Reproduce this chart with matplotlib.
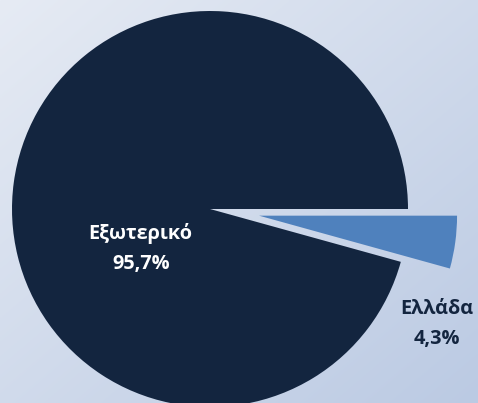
"""Pie chart: Εξωτερικό vs Ελλάδα share, exploded small slice."""

import matplotlib

matplotlib.use("Agg")
import matplotlib.pyplot as plt  # noqa: E402
import numpy as np  # noqa: E402

labels = ["Ελλάδα", "Εξωτερικό"]
shares = [4.3, 95.7]
colors = ["#4f81bd", "#13253f"]
explode = [0.25, 0.0]

W, H, DPI = 478, 403, 100
SCALE = 198.0  # pixels per unit radius
CX, CY = 210.0, 209.0  # pie centre in pixels (from top-left)

fig = plt.figure(figsize=(W / DPI, H / DPI), dpi=DPI)

# diagonal background gradient
bg = fig.add_axes([0, 0, 1, 1])
gx, gy = np.meshgrid(np.linspace(0, 1, 256), np.linspace(0, 1, 256))
t = (gx + gy) / 2
c0 = np.array([0xe6, 0xeb, 0xf4]) / 255
c1 = np.array([0xbb, 0xca, 0xe3]) / 255
img = c0[None, None, :] * (1 - t[..., None]) + c1[None, None, :] * t[..., None]
bg.imshow(img, extent=[0, 1, 0, 1], aspect="auto", origin="upper")
bg.axis("off")

ax = fig.add_axes([0, 0, 1, 1])
ax.set_facecolor("none")
ax.pie(shares, colors=colors, explode=explode, startangle=0, counterclock=False,
       radius=1.0, wedgeprops=dict(linewidth=0))
ax.set_aspect("auto")
ax.set_xlim(-CX / SCALE, (W - CX) / SCALE)
ax.set_ylim(-(H - CY) / SCALE, CY / SCALE)
ax.axis("off")

font = dict(family=["Open Sans", "DejaVu Sans"], fontweight="bold", fontsize=14.3,
            ha="center", va="center", linespacing=1.7)
ax.text(-0.35, -0.20, f"{labels[1]}\n{shares[1]:.1f}%".replace(".", ","),
        color="white", **font)
ax.text(1.145, -0.58, f"{labels[0]}\n{shares[0]:.1f}%".replace(".", ","),
        color="#13253f", **font)

fig.savefig("out.png", dpi=DPI)
